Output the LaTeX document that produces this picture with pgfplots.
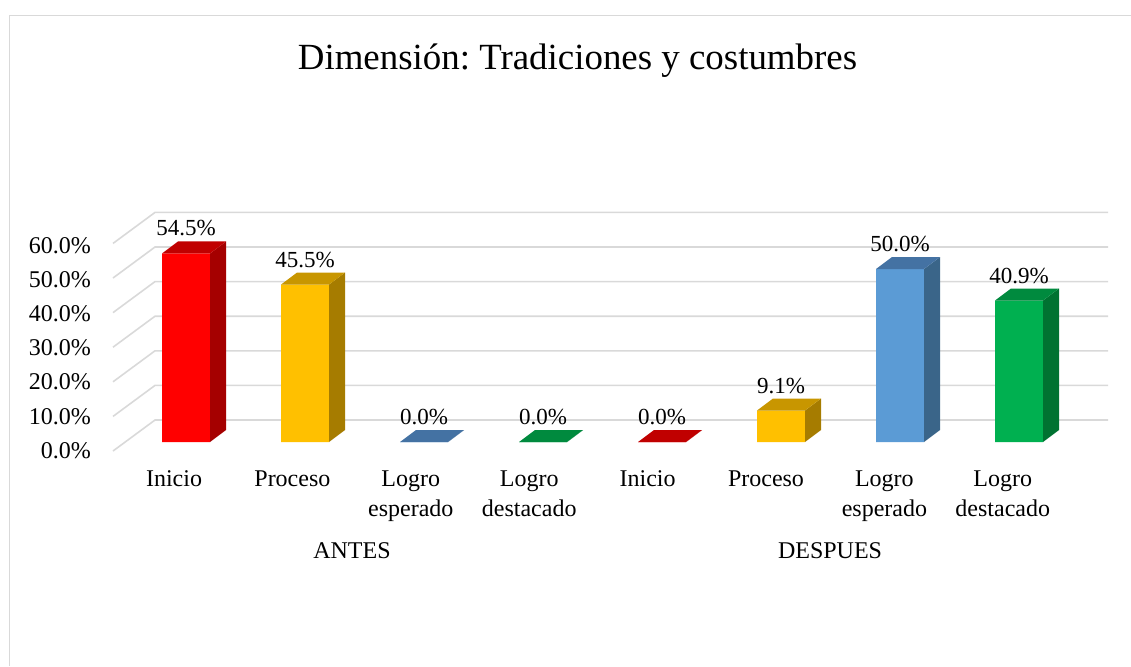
\documentclass[border=0pt]{standalone}
\usepackage{fontspec}
\setmainfont{Liberation Serif}
\usepackage{pgfplots}
\pgfplotsset{compat=1.18}
\usepackage{pgfplotstable}
\frenchspacing

\definecolor{gridc}{HTML}{D9D9D9}
\definecolor{redF}{HTML}{FF0000}\definecolor{redS}{HTML}{A50000}\definecolor{redT}{HTML}{C00000}
\definecolor{goldF}{HTML}{FFC000}\definecolor{goldS}{HTML}{A67C00}\definecolor{goldT}{HTML}{C89600}
\definecolor{blueF}{HTML}{5B9BD5}\definecolor{blueS}{HTML}{3A6589}\definecolor{blueT}{HTML}{4472A3}
\definecolor{greenF}{HTML}{00B050}\definecolor{greenS}{HTML}{007231}\definecolor{greenT}{HTML}{008A3E}

% 3D faces of a bar, drawn at the front-top centre of each bar
\pgfdeclareplotmark{sideface}{%
  \pgfmathsetlengthmacro\hh{\barval*3.46bp}%
  \pgfpathmoveto{\pgfpoint{24bp}{0bp}}%
  \pgfpathlineto{\pgfpoint{24bp}{-\hh}}%
  \pgfpathlineto{\pgfpoint{40bp}{-\hh+12bp}}%
  \pgfpathlineto{\pgfpoint{40bp}{12bp}}%
  \pgfpathclose\pgfusepathqfill}
\pgfdeclareplotmark{topface}{%
  \pgfpathmoveto{\pgfpoint{-24bp}{0bp}}%
  \pgfpathlineto{\pgfpoint{24bp}{0bp}}%
  \pgfpathlineto{\pgfpoint{40bp}{12bp}}%
  \pgfpathlineto{\pgfpoint{-8bp}{12bp}}%
  \pgfpathclose\pgfusepathqfill}

% x = category index, y = percent
\pgfplotstableread{
x v
0 54.5
4 0.0
}\inicio
\pgfplotstableread{
x v
1 45.5
5 9.1
}\proceso
\pgfplotstableread{
x v
2 0.0
6 50.0
}\esperado
\pgfplotstableread{
x v
3 0.0
7 40.9
}\destacado

\newcommand{\drawbar}[4]{%
  \addplot[ybar, bar width=48bp, bar shift=0pt, fill=#2, draw=none,
    nodes near coords={\pgfmathprintnumber[fixed,fixed zerofill,precision=1,assume math mode=true]{\pgfplotspointmeta}\%},
    every node near coord/.append style={anchor=base, yshift=17.5bp, text=black,
      font=\fontsize{23bp}{26bp}\selectfont}]
    table[x=x,y=v] {#1};
  \addplot[only marks, mark=sideface, mark options={fill=#3, draw=none},
    visualization depends on={rawy \as \barval}] table[x=x,y=v] {#1};
  \addplot[only marks, mark=topface, mark options={fill=#4, draw=none},
    visualization depends on={rawy \as \barval}] table[x=x,y=v] {#1};
}

\begin{document}
\begin{tikzpicture}
\begin{axis}[
  x=119bp, y=3.46bp,
  xmin=-1.56303, xmax=7.94118, ymin=-64.74, ymax=127.75,
  hide axis, clip=false,
]
% chart frame
\draw[gridc, line width=1.5bp] (axis cs:-1.483,-64.74) -- (axis cs:-1.483,123.27) -- (axis cs:7.94118,123.27);
% title
\node[anchor=base, font=\fontsize{36.9bp}{40bp}\selectfont] at (axis cs:3.290,107.8) {Dimensión: Tradiciones y costumbres};
% walls / gridlines
\pgfplotsinvokeforeach{0,10,20,30,40,50,60}{
  \draw[gridc, line width=1.6bp] (axis cs:-0.6134,{#1-2.601}) -- (axis cs:-0.2605,{#1+6.358}) -- (axis cs:7.748,{#1+6.358});
  \node[anchor=base east, inner sep=0pt, font=\fontsize{24bp}{26bp}\selectfont] at (axis cs:-0.798,{-4.71+0.988*#1}) {#1.0\%};
}
% bars
\drawbar{\inicio}{redF}{redS}{redT}
\drawbar{\proceso}{goldF}{goldS}{goldT}
\drawbar{\esperado}{blueF}{blueS}{blueT}
\drawbar{\destacado}{greenF}{greenS}{greenT}
% category labels
\pgfplotsinvokeforeach{0,4}{
  \node[anchor=base, font=\fontsize{24bp}{26bp}\selectfont] at (axis cs:{(174+118.4*#1-186)/119},-12.92) {Inicio};
}
\pgfplotsinvokeforeach{1,5}{
  \node[anchor=base, font=\fontsize{24bp}{26bp}\selectfont] at (axis cs:{(174+118.4*#1-186)/119},-12.92) {Proceso};
}
\pgfplotsinvokeforeach{2,6}{
  \node[anchor=base, font=\fontsize{24bp}{26bp}\selectfont] at (axis cs:{(174+118.4*#1-186)/119},-12.92) {Logro};
  \node[anchor=base, font=\fontsize{24bp}{26bp}\selectfont] at (axis cs:{(174+118.4*#1-186)/119},-21.39) {esperado};
}
\pgfplotsinvokeforeach{3,7}{
  \node[anchor=base, font=\fontsize{24bp}{26bp}\selectfont] at (axis cs:{(174+118.4*#1-186)/119},-12.92) {Logro};
  \node[anchor=base, font=\fontsize{24bp}{26bp}\selectfont] at (axis cs:{(174+118.4*#1-186)/119},-21.39) {destacado};
}
\node[anchor=base, font=\fontsize{24bp}{26bp}\selectfont] at (axis cs:1.395,-33.61) {ANTES};
\node[anchor=base, font=\fontsize{24bp}{26bp}\selectfont] at (axis cs:5.412,-33.61) {DESPUES};
\end{axis}
\pgfresetboundingbox
\path (current axis.south west) rectangle (current axis.north east);
\end{tikzpicture}
\end{document}
